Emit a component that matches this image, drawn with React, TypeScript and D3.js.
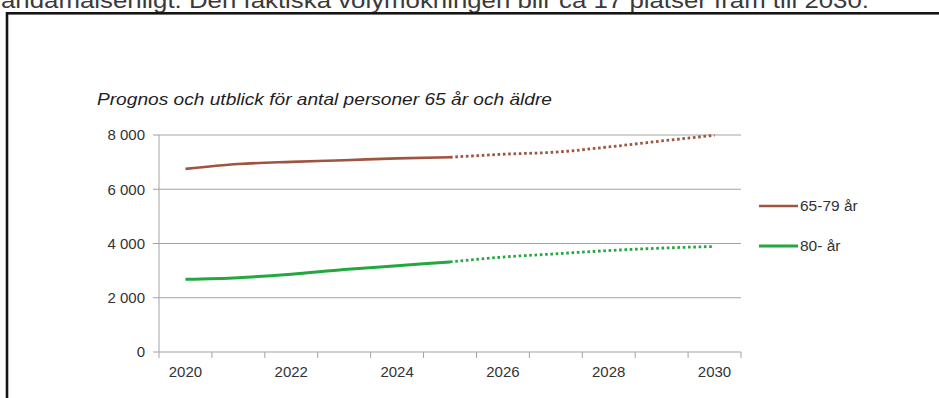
import React from "react";
import * as d3 from "d3";

const years = [2020, 2021, 2022, 2023, 2024, 2025, 2026, 2027, 2028, 2029, 2030];
const age65to79 = [6750, 6930, 7010, 7070, 7140, 7180, 7290, 7370, 7560, 7780, 7990];
const age80plus = [2680, 2740, 2870, 3040, 3180, 3320, 3500, 3620, 3740, 3830, 3890];
const yTicks = [0, 2000, 4000, 6000, 8000];
const xLabelYears = [2020, 2022, 2024, 2026, 2028, 2030];
const seriesNames = ["65-79 år", "80- år"];
const forecastStartYear = 2025;
const titleText = "Prognos och utblick för antal personer 65 år och äldre";
const topText = "ändamålsenligt. Den faktiska volymökningen blir ca 17 platser fram till 2030.";

const W = 939;
const H = 398;
const font = "'Liberation Sans', Arial, sans-serif";

export default function App() {
  const x = d3.scaleBand<number>().domain(years).range([159, 741]).padding(0);
  const y = d3.scaleLinear().domain([0, 8000]).range([352, 135]);
  const bw = x.bandwidth();
  const cx = (yr: number) => (x(yr) as number) + bw / 2;

  const line = d3
    .line<[number, number]>()
    .x((d) => cx(d[0]))
    .y((d) => y(d[1]))
    .curve(d3.curveMonotoneX);

  const series = [
    { name: seriesNames[0], values: age65to79, color: "#9f543f", width: 2.6 },
    { name: seriesNames[1], values: age80plus, color: "#23a840", width: 3 },
  ];

  const splitIdx = years.indexOf(forecastStartYear);
  const boundaries = d3.range(years.length + 1).map((i) => 159 + i * bw);

  return (
    <svg
      width={W}
      height={H}
      style={{ position: "absolute", left: 0, top: 0, background: "#fff" }}
      fontFamily={font}
    >
      <rect x={0} y={0} width={W} height={H} fill="#fff" />
      <text x={1} y={8} fontSize={22} fill="#3a3a3a" textLength={868} lengthAdjust="spacingAndGlyphs">
        {topText}
      </text>
      <rect x={7} y={13.3} width={1200} height={1200} fill="none" stroke="#151515" strokeWidth={2.6} />

      <text
        x={97}
        y={105}
        fontSize={17}
        fontStyle="italic"
        fill="#1e1e1e"
        textLength={455}
        lengthAdjust="spacingAndGlyphs"
      >
        {titleText}
      </text>

      {/* gridlines and y ticks */}
      {yTicks.map((t) => (
        <g key={t}>
          <line x1={153} x2={741} y1={y(t)} y2={y(t)} stroke="#a3a3a3" strokeWidth={1} />
          <text x={145} y={y(t)} dy="0.35em" textAnchor="end" fontSize={15} fill="#333">
            {d3.format(",")(t).replace(/,/g, " ")}
          </text>
        </g>
      ))}
      {/* y axis */}
      <line x1={159} x2={159} y1={135} y2={352} stroke="#a3a3a3" strokeWidth={1} />
      {/* x ticks */}
      {boundaries.map((bx, i) => (
        <line key={i} x1={bx} x2={bx} y1={352} y2={358} stroke="#a3a3a3" strokeWidth={1} />
      ))}
      {xLabelYears.map((yr) => (
        <text key={yr} x={cx(yr)} y={377} textAnchor="middle" fontSize={15} fill="#333">
          {yr}
        </text>
      ))}

      {series.map((s) => {
        const pts: [number, number][] = years.map((yr, i) => [yr, s.values[i]]);
        return (
          <g key={s.name}>
            <path
              d={line(pts.slice(0, splitIdx + 1)) || ""}
              fill="none"
              stroke={s.color}
              strokeWidth={s.width}
              strokeLinecap="butt"
            />
            <path
              d={line(pts.slice(splitIdx)) || ""}
              fill="none"
              stroke={s.color}
              strokeWidth={2.8}
              strokeDasharray="2.6 2.7"
            />
          </g>
        );
      })}

      {/* legend */}
      {series.map((s, i) => (
        <g key={s.name} transform={`translate(759, ${206 + i * 40})`}>
          <line x1={0} x2={39} y1={0} y2={0} stroke={s.color} strokeWidth={s.width} />
          <text x={41} y={0} dy="0.35em" fontSize={15.5} fill="#333">
            {s.name}
          </text>
        </g>
      ))}
    </svg>
  );
}
